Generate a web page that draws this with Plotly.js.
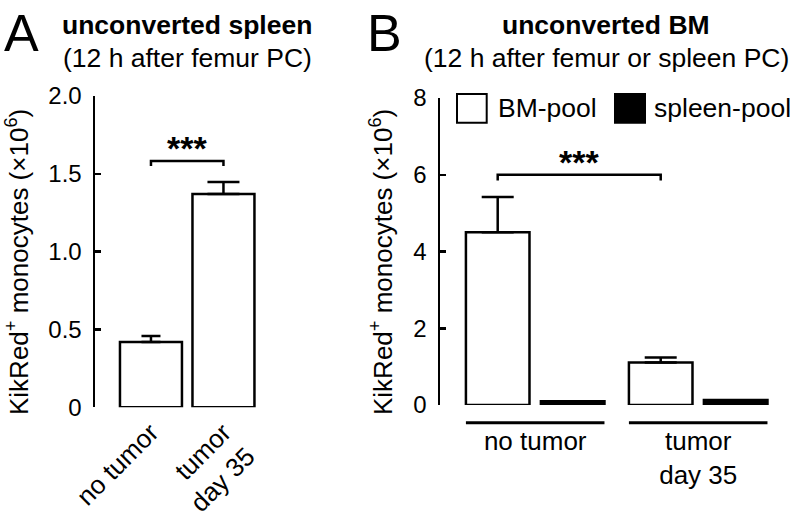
<!DOCTYPE html>
<html>
<head>
<meta charset="utf-8">
<script src="https://cdn.plot.ly/plotly-3.0.1.min.js"></script>
<style>html,body{margin:0;padding:0;background:#fff;}#chart{width:796px;height:517px;}</style>
</head>
<body>
<div id="chart"></div>
<script>
// ---- data ----
const catsA = ["no tumor", "tumor<br>day 35"];
const valsA = [0.42, 1.37];
const errsA = [0.038, 0.078];
const tickValsA = [0, 0.5, 1, 1.5, 2];
const tickTextA = ["0", "0.5", "1.0", "1.5", "2.0"];

const groupsB = ["no tumor", "tumor<br>day 35"];
const seriesNames = ["BM-pool", "spleen-pool"];
const bmPool = [4.5, 1.11];
const bmPoolErr = [0.92, 0.13];
const spleenPool = [0.1, 0.13];
const tickValsB = [0, 2, 4, 6, 8];
const tickTextB = ["0", "2", "4", "6", "8"];

const titleA = "unconverted spleen";
const subA = "(12 h after femur PC)";
const titleB = "unconverted BM";
const subB = "(12 h after femur or spleen PC)";
const yTitle = "KikRed<sup>+</sup> monocytes (×10<sup>6</sup>)";

// ---- layout helpers ----
const W = 796, H = 517;
const px = x => x / W;
const py = y => 1 - y / H;
const FONT = "Liberation Sans, Arial, Helvetica, sans-serif";
const LW = 2.5;

const capA = [9.5, 16];
const traces = [];
catsA.forEach((c, i) => {
  traces.push({
    type: "bar", x: [i], y: [valsA[i]], width: 0.855,
    xaxis: "x", yaxis: "y", showlegend: false,
    marker: {color: "#ffffff", line: {color: "#000", width: LW}},
    error_y: {type: "data", symmetric: false, array: [errsA[i]], arrayminus: [0],
              color: "#000", thickness: LW, width: capA[i]},
    hoverinfo: "skip"
  });
});
const bw = 0.39, offBM = -0.425, offSp = 0.035;
const gx = groupsB.map((g, i) => i);
traces.push({
  type: "bar", name: seriesNames[0], x: gx, y: bmPool, width: bw, offset: offBM,
  xaxis: "x2", yaxis: "y2", showlegend: false,
  marker: {color: "#ffffff", line: {color: "#000", width: LW}},
  error_y: {type: "data", symmetric: false, array: bmPoolErr, arrayminus: [0, 0],
            color: "#000", thickness: LW, width: 16},
  hoverinfo: "skip"
});
traces.push({
  type: "bar", name: seriesNames[1], x: gx, y: spleenPool, width: bw, offset: offSp,
  xaxis: "x2", yaxis: "y2", showlegend: false,
  marker: {color: "#000000", line: {color: "#000", width: LW}},
  hoverinfo: "skip"
});

const shapes = [];
// group underlines in panel B
gx.forEach(g => {
  shapes.push({type: "line", xref: "x2", yref: "paper",
    x0: g + offBM, x1: g + offSp + bw, y0: py(422.7), y1: py(422.7),
    line: {color: "#000", width: 3}});
});
// significance brackets
shapes.push({type: "path", xref: "x", yref: "y",
  path: "M 0,1.55 L 0,1.582 L 1,1.582 L 1,1.55", line: {color: "#000", width: LW}});
const bA = offBM + bw / 2;
shapes.push({type: "path", xref: "x2", yref: "y2",
  path: `M ${bA},5.85 L ${bA},6.0 L ${1 + bA},6.0 L ${1 + bA},5.85`, line: {color: "#000", width: LW}});
// custom legend boxes
shapes.push({type: "rect", xref: "paper", yref: "paper", x0: px(457), x1: px(486.7), y0: py(122.7), y1: py(94),
  fillcolor: "#fff", line: {color: "#000", width: 2}});
shapes.push({type: "rect", xref: "paper", yref: "paper", x0: px(615), x1: px(645), y0: py(122.7), y1: py(94),
  fillcolor: "#000", line: {color: "#000", width: 2}});

const ann = (text, x, y, size, extra) => Object.assign({
  text, xref: "paper", yref: "paper", x: px(x), y: py(y), showarrow: false,
  xanchor: "center", yanchor: "middle", font: {family: FONT, size, color: "#000"}
}, extra || {});

const annotations = [
  ann("A", 21, 33, 52),
  ann("B", 384, 33, 52),
  ann("<b>" + titleA + "</b>", 187, 25, 26.5),
  ann(subA, 187, 58, 26.5),
  ann("<b>" + titleB + "</b>", 606, 25, 26.5),
  ann(subB, 606, 58, 26.5),
  ann(yTitle, 17, 262, 26, {textangle: -90}),
  ann(yTitle, 381, 262, 26, {textangle: -90}),
  ann(seriesNames[0], 496, 108, 26.5, {xanchor: "left"}),
  ann(seriesNames[1], 652, 108, 26.5, {xanchor: "left"}),
  {text: "<b>***</b>", xref: "x", yref: "y", x: 0.5, y: 1.582, showarrow: false, yanchor: "bottom",
   yshift: -8, font: {family: FONT, size: 34, color: "#000"}},
  {text: "<b>***</b>", xref: "x2", yref: "y2", x: bA + 0.5, y: 6.0, showarrow: false, yanchor: "bottom",
   yshift: -8, font: {family: FONT, size: 34, color: "#000"}}
];

const yAxisCommon = {
  showline: true, linecolor: "#000", linewidth: LW, ticks: "inside", ticklen: 6,
  tickwidth: LW, tickcolor: "#000", showgrid: false, zeroline: false,
  tickfont: {family: FONT, size: 24, color: "#000"}, ticklabelstandoff: 6, fixedrange: true
};
const xAxisCommon = {
  showline: false, showgrid: false, zeroline: false, ticks: "",
  tickfont: {family: FONT, size: 26, color: "#000"}, fixedrange: true
};

const layout = {
  width: W, height: H, autosize: false,
  margin: {l: 0, r: 0, t: 0, b: 0, pad: 0},
  paper_bgcolor: "#fff", plot_bgcolor: "rgba(0,0,0,0)",
  barmode: "overlay", showlegend: false,
  font: {family: FONT, color: "#000"},
  xaxis: Object.assign({}, xAxisCommon, {domain: [px(95), px(270)], range: [-0.772, 1.642],
    anchor: "y", tickvals: [0, 1], ticktext: catsA, tickangle: -45, ticklabelstandoff: 4}),
  yaxis: Object.assign({}, yAxisCommon, {domain: [py(407.3), py(96)], range: [0, 2],
    anchor: "x", tickvals: tickValsA, ticktext: tickTextA}),
  xaxis2: Object.assign({}, xAxisCommon, {domain: [px(440), 1], range: [-0.584, 1.6],
    anchor: "y2", tickvals: gx, ticktext: groupsB, tickangle: 0, ticklabelstandoff: 18}),
  yaxis2: Object.assign({}, yAxisCommon, {domain: [py(405), py(98)], range: [0, 8],
    anchor: "x2", tickvals: tickValsB, ticktext: tickTextB}),
  shapes, annotations
};

Plotly.newPlot("chart", traces, layout, {displayModeBar: false, staticPlot: true});
</script>
</body>
</html>
